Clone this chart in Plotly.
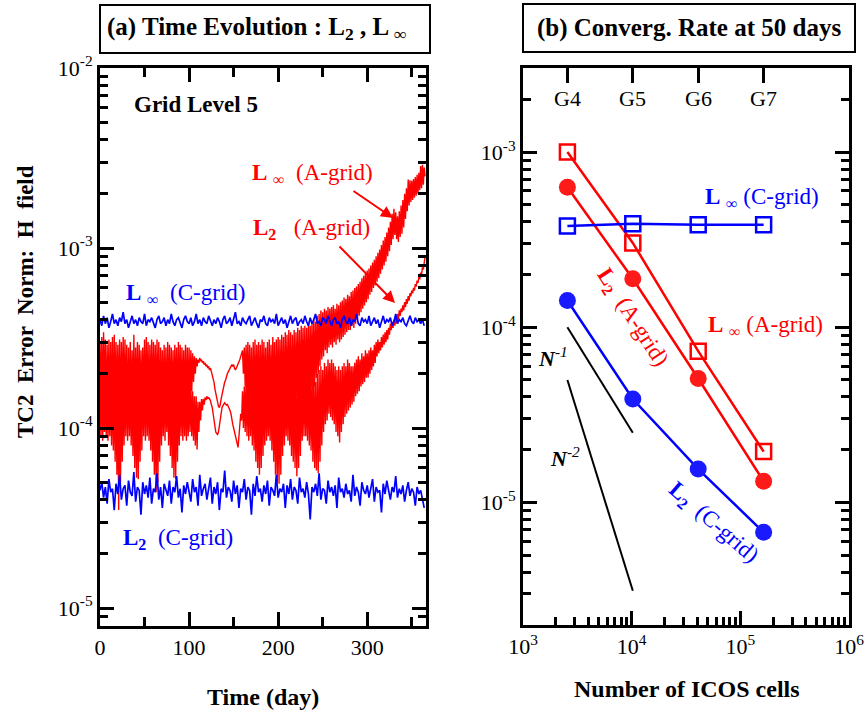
import math
import plotly.graph_objects as go

# ---------------- data: panel (a) time evolution -------------
red_days = list(range(0, 366))      # daily samples, A-grid curves
blue_days = list(range(0, 365, 2))  # 2-day samples, C-grid curves

# red L_inf (A-grid), units of 1e-5
red_linf_e5 = [
    30, 12, 32, 11, 34, 13, 31, 10, 29, 12,
    31, 11, 30, 12, 32, 10, 33, 12, 30, 11,
    29, 12, 31, 10, 30, 13, 32, 11, 31, 12,
    29, 10, 28, 12, 30, 11, 27, 12, 33, 10,
    28, 12, 30, 11, 29, 12, 27, 11, 28, 13,
    31, 11, 32, 12, 30, 10, 29, 12, 31, 11,
    30, 12, 29, 11, 31, 13, 30, 10, 28, 12,
    27, 11, 29, 12, 28, 10, 30, 12, 29, 11,
    28, 12, 27, 11, 29, 13, 28, 11, 30, 12,
    29, 11, 28, 13, 27, 12, 29, 11, 28, 12,
    28, 14, 27, 16, 26, 18, 25, 20, 24.5, 22,
    24, 23, 24.5, 23.5, 24, 23, 23.5, 22.5, 23, 22,
    22.5, 21.5, 22, 21, 21.5, 20.5, 20, 19, 18, 16.5,
    15.5, 14.5, 13.8, 13.2, 13, 13.5, 14.5, 15.5, 16.5, 17.5,
    18, 18.5, 19.5, 20, 20.5, 21, 21.5, 22, 22.5, 22,
    22.5, 21.5, 21, 21.5, 22, 22.5, 23, 24, 25, 26,
    27, 20, 28, 17, 29, 15, 30, 13, 29, 12,
    28, 11, 30, 12, 31, 11, 29, 13, 30, 12,
    29, 11, 31, 12, 30, 13, 28, 11, 30, 12,
    31, 11, 29, 12, 32, 13, 30, 11, 31, 12,
    32, 11, 31, 13, 33, 12, 32, 11, 34, 14,
    33, 12, 35, 13, 34, 12, 33, 14, 35, 13,
    34, 15, 36, 14, 35, 13, 37, 16, 36, 15,
    37, 14, 36, 16, 38, 15, 37, 17, 39, 16,
    40, 17, 39, 19, 42, 20, 43, 22, 45, 24,
    44, 25, 46, 27, 45, 26, 47, 28, 46, 29,
    47, 28, 48, 30, 46, 29, 49, 31, 48, 30,
    50, 31, 51, 32, 53, 33, 52, 34, 55, 35,
    54, 35, 57, 37, 58, 36, 60, 38, 61, 40,
    63, 42, 65, 44, 68, 46, 70, 48, 72, 50,
    75, 52, 77, 55, 80, 57, 83, 60, 86, 62,
    90, 65, 94, 68, 98, 72, 104, 76, 110, 80,
    115, 84, 122, 90, 130, 96, 140, 104, 155, 112,
    165, 118, 158, 112, 150, 108, 160, 115, 172, 120,
    185, 130, 200, 145, 215, 160, 240, 172, 238, 180,
    236, 185, 242, 190, 248, 195, 255, 200, 262, 210,
    285, 215, 290, 225, 280, 250,
]

# red L2 (A-grid), units of 1e-5
red_l2_e5 = [
    19, 9, 21, 8.5, 18, 9.5, 20, 9, 17, 8.5,
    19, 9, 18, 8, 20, 7.5, 19, 6.5, 18, 5.5,
    17, 3.5, 18, 5, 20, 6.5, 21, 8, 19, 9,
    22, 8.5, 20, 9, 18, 8, 19, 7, 17, 6,
    18, 5.3, 17, 5.2, 19, 6.5, 20, 7.5, 21, 9,
    20, 8.5, 22, 9, 19, 8.5, 18, 7.5, 20, 6.5,
    19, 5.5, 17, 4.4, 18, 5, 19, 6.5, 21, 8,
    20, 9, 21, 8.5, 19, 9.5, 20, 8, 18, 7,
    19, 6, 17, 5.3, 18, 5.2, 20, 6.5, 19, 8,
    21, 9, 20, 8.5, 19, 9, 18, 8.5, 17, 9,
    18, 9.5, 17, 9, 16, 8.5, 15, 8, 15, 7.6,
    14, 9.5, 14, 11, 14.5, 12.5, 14.5, 13.5, 14.8, 14.3,
    15, 14.5, 14.8, 14.5, 14.2, 13.5, 13, 12, 11, 10,
    9.5, 9.3, 9.2, 9.5, 10.5, 11.5, 12.5, 13, 13.3, 13.5,
    13.8, 13.6, 13.4, 13.5, 13.2, 13, 12.5, 12, 11, 10.5,
    10, 9.5, 9, 8.5, 8.2, 7.8, 9, 10, 12, 11,
    16, 10, 17, 9.5, 18, 9, 20, 8.5, 19, 9,
    18, 8, 19, 7.5, 20, 6.5, 18, 6, 17, 5.5,
    19, 6, 21, 7, 20, 8, 21, 8.5, 19, 9,
    18, 8.5, 20, 7.5, 19, 6.5, 17, 5.5, 18, 5,
    17, 4.9, 19, 5.5, 20, 7, 21, 8, 20, 9,
    19, 8.5, 21, 8, 20, 7, 18, 6.5, 19, 6,
    18, 5.4, 19, 6, 21, 7, 20, 8.5, 22, 9,
    21, 9, 20, 8.5, 22, 8, 19, 7.5, 20, 6.5,
    19, 6, 18, 5.8, 20, 5.6, 21, 6.5, 22, 8,
    21, 9.5, 23, 10.5, 22, 11, 24, 12, 23, 11.5,
    24, 11, 23, 10.5, 22, 9.5, 21, 9, 22, 8.3,
    21, 9.5, 22, 10.5, 23, 11.5, 22, 12, 24, 12.5,
    23, 13, 22, 13.5, 22, 14, 23, 15, 24, 15.5,
    25, 16, 24, 17, 26, 17.5, 25, 18, 27, 19,
    26, 19, 27, 20, 28, 21, 27, 22, 29, 23,
    30, 25, 31, 26, 30, 27, 32, 28, 33, 29,
    34, 30, 35, 31, 36, 33, 38, 35, 39, 36,
    40, 37, 42, 38, 43, 40, 45, 42, 46, 44,
    48, 45, 50, 47, 52, 49, 54, 51, 56, 54,
    58, 56, 60, 58, 63, 61, 66, 64, 69, 67,
    73, 71, 78, 76, 84, 90,
]

# blue L_inf (C-grid), units of 1e-5
blue_linf_e5 = [
    40, 37, 42, 38, 41, 36, 39, 43, 38, 40,
    37, 41, 39, 44, 38, 40, 36, 39, 42, 38,
    40, 37, 41, 39, 38, 43, 37, 40, 39, 41,
    38, 36, 40, 42, 38, 39, 41, 37, 40, 38,
    43, 39, 37, 40, 41, 38, 36, 40, 42, 39,
    38, 41, 37, 39, 43, 38, 40, 37, 41, 39,
    38, 42, 39, 37, 40, 38, 41, 39, 36, 40,
    42, 38, 39, 41, 37, 40, 44, 38, 39, 37,
    41, 39, 38, 40, 42, 37, 39, 41, 38, 36,
    40, 39, 42, 38, 37, 41, 39, 40, 38, 43,
    37, 39, 41, 38, 40, 36, 39, 42, 38, 40,
    41, 37, 39, 40, 38, 42, 39, 37, 41, 38,
    40, 43, 38, 39, 37, 41, 40, 38, 42, 39,
    37, 40, 41, 38, 39, 36, 40, 42, 39, 38,
    41, 37, 40, 39, 43, 38, 37, 41, 39, 40,
    38, 42, 37, 39, 41, 38, 40, 36, 39, 42,
    38, 40, 39, 41, 37, 39, 43, 38, 40, 39,
    41, 38, 37, 40, 42, 39, 38, 41, 39, 40,
    38, 40, 37,
]

# blue L2 (C-grid), units of 1e-6
blue_l2_e6 = [
    45, 50, 41, 47, 38, 52, 44, 46, 35, 49,
    43, 55, 40, 46, 48, 37, 51, 44, 42, 57,
    39, 47, 45, 33, 50, 43, 48, 41, 53, 38,
    46, 44, 56, 40, 47, 36, 49, 45, 42, 51,
    38, 47, 44, 54, 41, 46, 34, 48, 43, 50,
    45, 39, 52, 44, 47, 37, 55, 42, 46, 49,
    40, 45, 53, 38, 47, 43, 50, 35, 46, 44,
    58, 41, 47, 45, 39, 51, 43, 48, 36, 46,
    44, 52, 40, 47, 45, 33, 49, 42, 54, 44,
    46, 39, 48, 43, 51, 37, 47, 45, 42, 55,
    41, 46, 44, 49, 36, 48, 43, 52, 40, 47,
    45, 38, 53, 44, 46, 41, 50, 43, 31, 47,
    44, 49, 42, 56, 40, 46, 45, 38, 51, 44,
    47, 42, 48, 36, 53, 44, 46, 41, 49, 43,
    45, 39, 55, 42, 47, 44, 37, 50, 45, 43,
    48, 41, 46, 52, 39, 47, 44, 45, 34, 49,
    43, 51, 45, 40, 47, 44, 54, 41, 46, 43,
    48, 39, 45, 50, 42, 46, 44, 37, 47, 43,
    45, 41, 36,
]

# ---------------- data: panel (b) convergence at 50 days ----------------
icos_cells = [2562, 10242, 40962, 163842]
grid_labels = ["G4", "G5", "G6", "G7"]
linf_a = [1.0e-3, 3.03e-4, 7.3e-5, 1.95e-5]
l2_a = [6.3e-4, 1.89e-4, 5.1e-5, 1.32e-5]
linf_c = [3.79e-4, 3.9e-4, 3.85e-4, 3.85e-4]
l2_c = [1.42e-4, 3.89e-5, 1.55e-5, 6.75e-6]
slope1_x = [2562, 10242]
slope1_y = [1.0e-4, 2.5e-5]
slope2_x = [2562, 10242]
slope2_y = [5.0e-5, 3.13e-6]

# ---------------- figure ----------------
W, H = 866, 711
RED = "#ff0000"
BLUE = "#0000ff"
SERIF = "Liberation Serif"


def px(x):
    return x / W


def py(y):
    return 1 - y / H


fig = go.Figure()

fig.add_trace(go.Scatter(x=red_days, y=[v * 1e-5 for v in red_linf_e5], mode="lines",
                         line=dict(color=RED, width=1.4), xaxis="x", yaxis="y",
                         showlegend=False, hoverinfo="skip"))
fig.add_trace(go.Scatter(x=red_days, y=[v * 1e-5 for v in red_l2_e5], mode="lines",
                         line=dict(color=RED, width=1.4), xaxis="x", yaxis="y",
                         showlegend=False, hoverinfo="skip"))
fig.add_trace(go.Scatter(x=blue_days, y=[v * 1e-5 for v in blue_linf_e5], mode="lines",
                         line=dict(color=BLUE, width=1.7), xaxis="x", yaxis="y",
                         showlegend=False, hoverinfo="skip"))
fig.add_trace(go.Scatter(x=blue_days, y=[v * 1e-6 for v in blue_l2_e6], mode="lines",
                         line=dict(color=BLUE, width=1.7), xaxis="x", yaxis="y",
                         showlegend=False, hoverinfo="skip"))

# panel b
for xs, ys in [(slope1_x, slope1_y), (slope2_x, slope2_y)]:
    fig.add_trace(go.Scatter(x=xs, y=ys, mode="lines", line=dict(color="black", width=2),
                             xaxis="x2", yaxis="y2", showlegend=False, hoverinfo="skip"))

fig.add_trace(go.Scatter(x=icos_cells, y=linf_a, mode="lines+markers",
                         line=dict(color=RED, width=2.5),
                         marker=dict(symbol="square-open", size=15, color=RED, line=dict(width=2.5)),
                         xaxis="x2", yaxis="y2", showlegend=False))
fig.add_trace(go.Scatter(x=icos_cells, y=l2_a, mode="lines+markers",
                         line=dict(color=RED, width=2.5),
                         marker=dict(symbol="circle", size=17, color="#ff1a1a"),
                         xaxis="x2", yaxis="y2", showlegend=False))
fig.add_trace(go.Scatter(x=icos_cells, y=linf_c, mode="lines+markers",
                         line=dict(color=BLUE, width=2.5),
                         marker=dict(symbol="square-open", size=15, color=BLUE, line=dict(width=2.5)),
                         xaxis="x2", yaxis="y2", showlegend=False))
fig.add_trace(go.Scatter(x=icos_cells, y=l2_c, mode="lines+markers",
                         line=dict(color=BLUE, width=2.5),
                         marker=dict(symbol="circle", size=17, color="#1a1aff"),
                         xaxis="x2", yaxis="y2", showlegend=False))
# carrier for the top G-axis
fig.add_trace(go.Scatter(x=icos_cells, y=linf_c, mode="markers", marker=dict(opacity=0),
                         xaxis="x3", yaxis="y2", showlegend=False, hoverinfo="skip"))

tickfont = dict(family=SERIF, size=22, color="black")


def log_minor(e0, e1):
    return [k * 10.0 ** e for e in range(e0, e1) for k in range(2, 10)]


def sup(e):
    return "10<sup>%d</sup>" % e


common = dict(showline=True, linewidth=3, linecolor="black", showgrid=False, zeroline=False,
              ticks="inside", ticklen=14, tickwidth=2.5, tickcolor="black", tickfont=tickfont,
              automargin=False)

fig.update_layout(
    width=W, height=H, margin=dict(l=0, r=0, t=0, b=0, autoexpand=False),
    paper_bgcolor="white", plot_bgcolor="white",
    xaxis=dict(domain=[px(100), px(426)], anchor="y", range=[0, 366],
               tickmode="array", tickvals=[0, 100, 200, 300], mirror="ticks",
               minor=dict(tickmode="array", tickvals=[50, 150, 250, 350], ticks="inside",
                          ticklen=9, tickwidth=2.5, tickcolor="black", showgrid=False),
               **common),
    yaxis=dict(domain=[py(626), py(68)], anchor="x", type="log", range=[-5.1, -2],
               tickmode="array", tickvals=[1e-5, 1e-4, 1e-3, 1e-2],
               ticktext=[sup(-5), sup(-4), sup(-3), sup(-2)], mirror="ticks",
               minor=dict(tickmode="array", tickvals=log_minor(-6, -2), ticks="inside",
                          ticklen=8, tickwidth=2.5, tickcolor="black", showgrid=False),
               **common),
    xaxis2=dict(domain=[px(523), px(849)], anchor="y2", type="log", range=[3, 6],
                tickmode="array", tickvals=[1e3, 1e4, 1e5, 1e6],
                ticktext=[sup(3), sup(4), sup(5), sup(6)], mirror=True,
                minor=dict(tickmode="array", tickvals=log_minor(3, 6), ticks="inside",
                           ticklen=8, tickwidth=2.5, tickcolor="black", showgrid=False),
                **common),
    yaxis2=dict(domain=[py(625), py(68)], anchor="x2", type="log", range=[-5.7, -2.52],
                tickmode="array", tickvals=[1e-5, 1e-4, 1e-3],
                ticktext=[sup(-5), sup(-4), sup(-3)], mirror="ticks",
                minor=dict(tickmode="array", tickvals=log_minor(-6, -2), ticks="inside",
                           ticklen=8, tickwidth=2.5, tickcolor="black", showgrid=False),
                **common),
    xaxis3=dict(overlaying="x2", anchor="y2", side="top", type="log", range=[3, 6],
                tickmode="array", tickvals=icos_cells, ticks="inside", ticklen=15,
                tickwidth=2.5, tickcolor="black", showticklabels=False, showline=False,
                showgrid=False, zeroline=False, automargin=False),
)

# title boxes
fig.add_shape(type="rect", xref="paper", yref="paper", x0=px(100), x1=px(430), y0=py(53), y1=py(5),
              line=dict(color="black", width=2))
fig.add_shape(type="rect", xref="paper", yref="paper", x0=px(523), x1=px(855), y0=py(52), y1=py(4),
              line=dict(color="black", width=2))


def ann(text, x, y, size=23, color="black", angle=0, **kw):
    fig.add_annotation(text=text, xref="paper", yref="paper", x=px(x), y=py(y),
                       xanchor="center", yanchor="middle", showarrow=False, textangle=angle,
                       font=dict(family=SERIF, size=size, color=color), **kw)


ann("<b>(a) Time Evolution : L<sub>2</sub> , L <sub>∞</sub></b>", 257, 29, size=25)
ann("<b>(b) Converg. Rate at 50 days</b>", 689, 28, size=25)
ann("<b>TC2  Error  Norm:  H  field</b>", 25, 302, size=23, angle=-90)
ann("<b>Time (day)</b>", 263, 697, size=24)
ann("<b>Number of ICOS cells</b>", 687, 689, size=24)
ann("<b>Grid Level 5</b>", 196, 105, size=23)

# panel a labels
ann("<b>L</b> <sub>∞</sub>  (A-grid)", 312, 174, color=RED)
ann("<b>L<sub>2</sub></b>   (A-grid)", 311, 229, color=RED)
ann("<b>L</b> <sub>∞</sub>  (C-grid)", 185, 294, color=BLUE)
ann("<b>L<sub>2</sub></b>  (C-grid)", 178, 539, color=BLUE)

# arrows (head, tail) in pixels
for (hx, hy, tx, ty) in [(393, 218, 352, 190), (395, 303, 338, 245)]:
    fig.add_annotation(xref="paper", yref="paper", x=px(hx), y=py(hy), ax=tx - hx, ay=ty - hy,
                       text="", showarrow=True, arrowhead=2, arrowsize=1.2, arrowwidth=2,
                       arrowcolor=RED)

# panel b labels
for g, xv in zip(grid_labels, icos_cells):
    fig.add_annotation(text=g, xref="x2", yref="paper", x=math.log10(xv), y=py(98),
                       xanchor="center", yanchor="middle", showarrow=False,
                       font=dict(family=SERIF, size=22, color="black"))
ann("<b>L</b> <sub>∞</sub> (C-grid)", 762, 198, color=BLUE)
ann("<b>L</b> <sub>∞</sub> (A-grid)", 765, 326, color=RED)
ann("<b>L<sub>2</sub></b>  (A-grid)", 632, 318, color=RED, angle=57)
ann("<b>L<sub>2</sub></b>  (C-grid)", 713, 523, color=BLUE, angle=41)
ann("<b><i>N</i></b><sup><i>-1</i></sup>", 553, 357, size=22)
ann("<b><i>N</i></b><sup><i>-2</i></sup>", 565, 457, size=22)

fig.write_html("out.html")
